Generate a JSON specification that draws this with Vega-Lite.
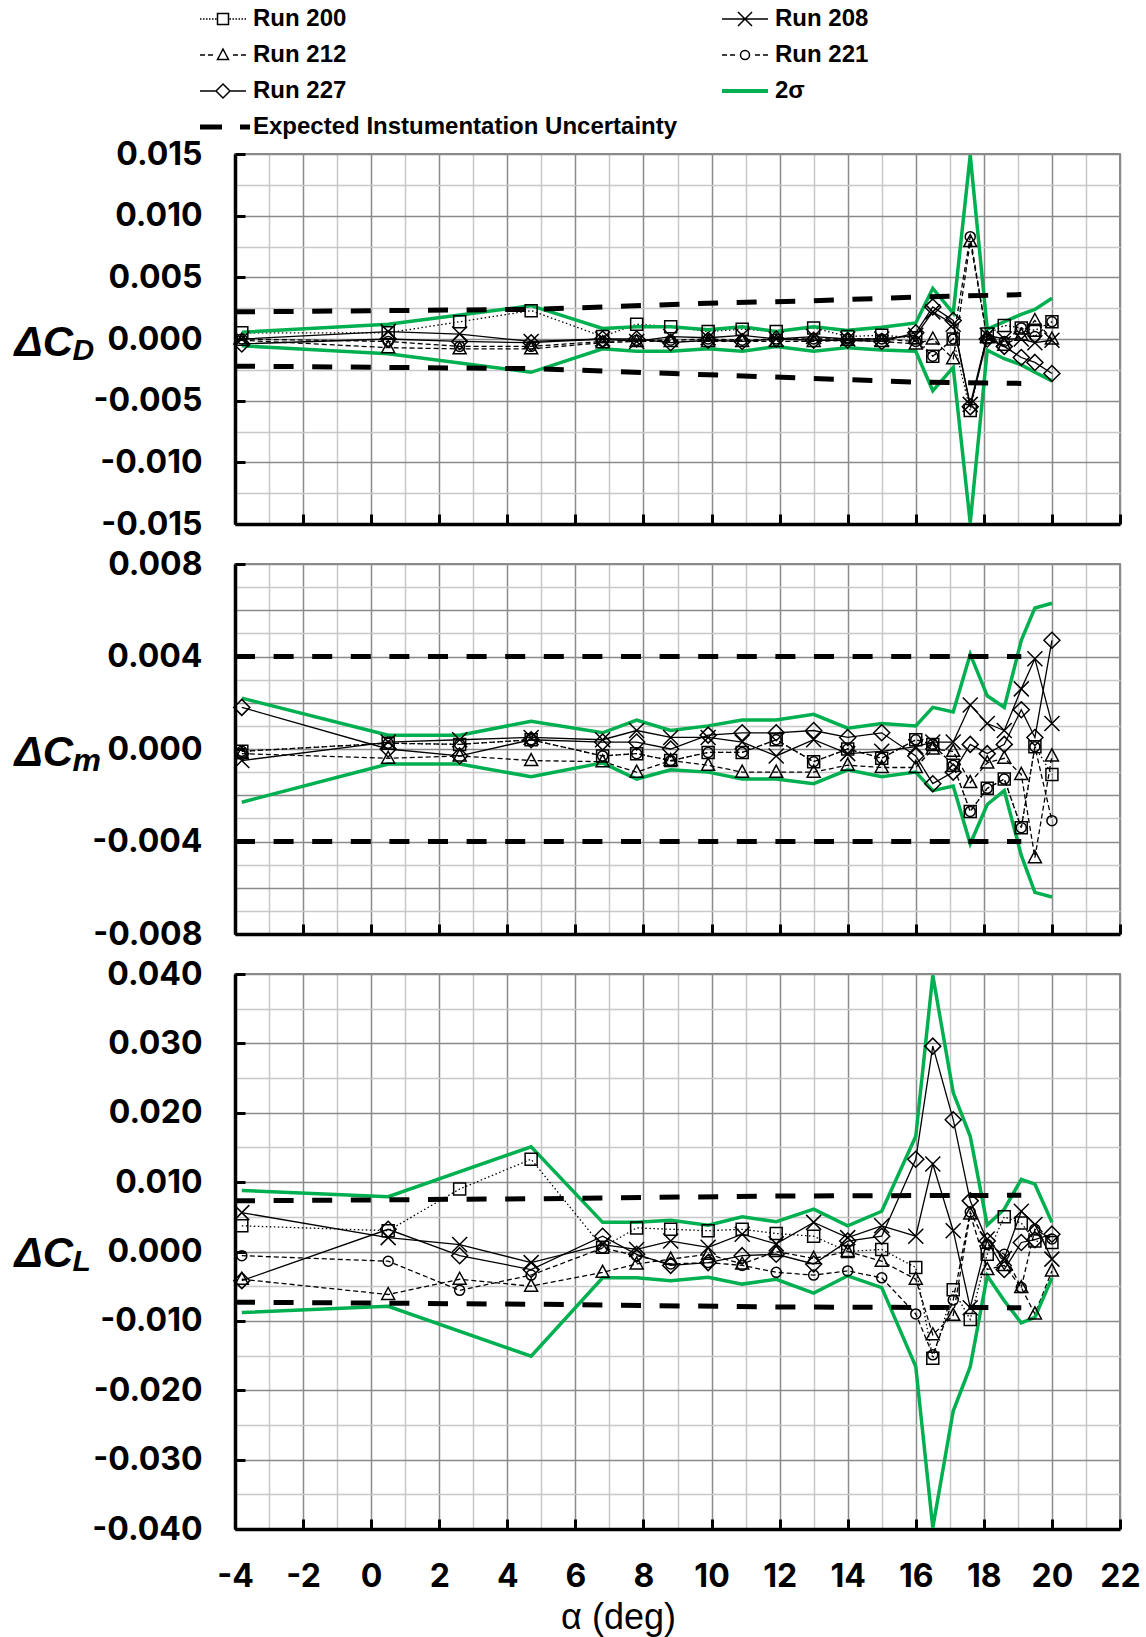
{
  "$schema": "https://vega.github.io/schema/vega-lite/v6.json",
  "background": "white",
  "padding": {"left": 13, "top": 7, "right": 5, "bottom": 4},
  "bounds": "flush",
  "spacing": 40,
  "config": {
    "view": {"stroke": "#8a8a8a", "strokeWidth": 2},
    "font": "Liberation Sans"
  },
  "datasets": {
    "cd": [
      {"series":"Run 200","alpha":-3.8,"value":0.0005},{"series":"Run 200","alpha":0.5,"value":0.0005},{"series":"Run 200","alpha":2.6,"value":0.0014},{"series":"Run 200","alpha":4.7,"value":0.0023},{"series":"Run 200","alpha":6.8,"value":0.0002},{"series":"Run 200","alpha":7.8,"value":0.0012},{"series":"Run 200","alpha":8.8,"value":0.001},{"series":"Run 200","alpha":9.9,"value":0.0006},{"series":"Run 200","alpha":10.9,"value":0.0008},{"series":"Run 200","alpha":11.9,"value":0.0006},{"series":"Run 200","alpha":13.0,"value":0.0009},{"series":"Run 200","alpha":14.0,"value":0.0002},{"series":"Run 200","alpha":15.0,"value":0.0003},{"series":"Run 200","alpha":16.0,"value":0.0001},{"series":"Run 200","alpha":16.5,"value":-0.0014},{"series":"Run 200","alpha":17.1,"value":0.0},{"series":"Run 200","alpha":17.6,"value":-0.0058},{"series":"Run 200","alpha":18.1,"value":0.0004},{"series":"Run 200","alpha":18.6,"value":0.0011},{"series":"Run 200","alpha":19.1,"value":0.0009},{"series":"Run 200","alpha":19.5,"value":0.0007},{"series":"Run 200","alpha":20.0,"value":0.0014},
      {"series":"Run 208","alpha":-3.8,"value":0.0},{"series":"Run 208","alpha":0.5,"value":0.0006},{"series":"Run 208","alpha":2.6,"value":0.0004},{"series":"Run 208","alpha":4.7,"value":-0.0002},{"series":"Run 208","alpha":6.8,"value":0.0},{"series":"Run 208","alpha":7.8,"value":-0.0002},{"series":"Run 208","alpha":8.8,"value":0.0002},{"series":"Run 208","alpha":9.9,"value":0.0001},{"series":"Run 208","alpha":10.9,"value":0.0003},{"series":"Run 208","alpha":11.9,"value":0.0},{"series":"Run 208","alpha":13.0,"value":0.0002},{"series":"Run 208","alpha":14.0,"value":0.0},{"series":"Run 208","alpha":15.0,"value":0.0},{"series":"Run 208","alpha":16.0,"value":0.0003},{"series":"Run 208","alpha":16.5,"value":0.0022},{"series":"Run 208","alpha":17.1,"value":0.0012},{"series":"Run 208","alpha":17.6,"value":-0.0053},{"series":"Run 208","alpha":18.1,"value":0.0003},{"series":"Run 208","alpha":18.6,"value":0.0},{"series":"Run 208","alpha":19.1,"value":0.0},{"series":"Run 208","alpha":19.5,"value":-0.0003},{"series":"Run 208","alpha":20.0,"value":-0.0001},
      {"series":"Run 212","alpha":-3.8,"value":-0.0001},{"series":"Run 212","alpha":0.5,"value":-0.0007},{"series":"Run 212","alpha":2.6,"value":-0.0008},{"series":"Run 212","alpha":4.7,"value":-0.0008},{"series":"Run 212","alpha":6.8,"value":-0.0003},{"series":"Run 212","alpha":7.8,"value":-0.0002},{"series":"Run 212","alpha":8.8,"value":-0.0002},{"series":"Run 212","alpha":9.9,"value":-0.0002},{"series":"Run 212","alpha":10.9,"value":-0.0002},{"series":"Run 212","alpha":11.9,"value":-0.0002},{"series":"Run 212","alpha":13.0,"value":-0.0002},{"series":"Run 212","alpha":14.0,"value":-0.0001},{"series":"Run 212","alpha":15.0,"value":-0.0002},{"series":"Run 212","alpha":16.0,"value":-0.0004},{"series":"Run 212","alpha":16.5,"value":0.0},{"series":"Run 212","alpha":17.1,"value":-0.0016},{"series":"Run 212","alpha":17.6,"value":0.0079},{"series":"Run 212","alpha":18.1,"value":0.0001},{"series":"Run 212","alpha":18.6,"value":-0.0005},{"series":"Run 212","alpha":19.1,"value":0.0003},{"series":"Run 212","alpha":19.5,"value":0.0015},{"series":"Run 212","alpha":20.0,"value":0.0},
      {"series":"Run 221","alpha":-3.8,"value":0.0},{"series":"Run 221","alpha":0.5,"value":-0.0002},{"series":"Run 221","alpha":2.6,"value":-0.0006},{"series":"Run 221","alpha":4.7,"value":-0.0006},{"series":"Run 221","alpha":6.8,"value":-0.0002},{"series":"Run 221","alpha":7.8,"value":-0.0001},{"series":"Run 221","alpha":8.8,"value":-0.0001},{"series":"Run 221","alpha":9.9,"value":0.0},{"series":"Run 221","alpha":10.9,"value":-0.0001},{"series":"Run 221","alpha":11.9,"value":0.0},{"series":"Run 221","alpha":13.0,"value":0.0},{"series":"Run 221","alpha":14.0,"value":0.0},{"series":"Run 221","alpha":15.0,"value":0.0},{"series":"Run 221","alpha":16.0,"value":-0.0002},{"series":"Run 221","alpha":16.5,"value":-0.0014},{"series":"Run 221","alpha":17.1,"value":0.0},{"series":"Run 221","alpha":17.6,"value":0.0083},{"series":"Run 221","alpha":18.1,"value":0.0},{"series":"Run 221","alpha":18.6,"value":-0.0002},{"series":"Run 221","alpha":19.1,"value":0.0009},{"series":"Run 221","alpha":19.5,"value":0.0002},{"series":"Run 221","alpha":20.0,"value":0.0014},
      {"series":"Run 227","alpha":-3.8,"value":-0.0004},{"series":"Run 227","alpha":0.5,"value":0.0},{"series":"Run 227","alpha":2.6,"value":-0.0002},{"series":"Run 227","alpha":4.7,"value":-0.0003},{"series":"Run 227","alpha":6.8,"value":0.0},{"series":"Run 227","alpha":7.8,"value":0.0},{"series":"Run 227","alpha":8.8,"value":-0.0003},{"series":"Run 227","alpha":9.9,"value":-0.0001},{"series":"Run 227","alpha":10.9,"value":-0.0002},{"series":"Run 227","alpha":11.9,"value":0.0},{"series":"Run 227","alpha":13.0,"value":-0.0001},{"series":"Run 227","alpha":14.0,"value":-0.0001},{"series":"Run 227","alpha":15.0,"value":-0.0002},{"series":"Run 227","alpha":16.0,"value":0.0005},{"series":"Run 227","alpha":16.5,"value":0.0026},{"series":"Run 227","alpha":17.1,"value":0.0015},{"series":"Run 227","alpha":17.6,"value":-0.0055},{"series":"Run 227","alpha":18.1,"value":0.0},{"series":"Run 227","alpha":18.6,"value":-0.0006},{"series":"Run 227","alpha":19.1,"value":-0.0015},{"series":"Run 227","alpha":19.5,"value":-0.0019},{"series":"Run 227","alpha":20.0,"value":-0.0028},
      {"series":"2σ","bound":"upper","alpha":-3.8,"value":0.00055},{"series":"2σ","bound":"upper","alpha":0.5,"value":0.0012},{"series":"2σ","bound":"upper","alpha":4.7,"value":0.0027},{"series":"2σ","bound":"upper","alpha":6.8,"value":0.00085},{"series":"2σ","bound":"upper","alpha":7.8,"value":0.001},{"series":"2σ","bound":"upper","alpha":8.8,"value":0.001},{"series":"2σ","bound":"upper","alpha":9.9,"value":0.00075},{"series":"2σ","bound":"upper","alpha":10.9,"value":0.001},{"series":"2σ","bound":"upper","alpha":11.9,"value":0.0006},{"series":"2σ","bound":"upper","alpha":13.0,"value":0.001},{"series":"2σ","bound":"upper","alpha":14.0,"value":0.0007},{"series":"2σ","bound":"upper","alpha":15.0,"value":0.00095},{"series":"2σ","bound":"upper","alpha":16.0,"value":0.0013},{"series":"2σ","bound":"upper","alpha":16.5,"value":0.0041},{"series":"2σ","bound":"upper","alpha":17.1,"value":0.0021},{"series":"2σ","bound":"upper","alpha":17.6,"value":0.0149},{"series":"2σ","bound":"upper","alpha":18.1,"value":0.0008},{"series":"2σ","bound":"upper","alpha":18.6,"value":0.0014},{"series":"2σ","bound":"upper","alpha":19.1,"value":0.002},{"series":"2σ","bound":"upper","alpha":19.5,"value":0.0024},{"series":"2σ","bound":"upper","alpha":20.0,"value":0.0033},
      {"series":"2σ","bound":"lower","alpha":-3.8,"value":-0.00055},{"series":"2σ","bound":"lower","alpha":0.5,"value":-0.0012},{"series":"2σ","bound":"lower","alpha":4.7,"value":-0.0027},{"series":"2σ","bound":"lower","alpha":6.8,"value":-0.0008},{"series":"2σ","bound":"lower","alpha":7.8,"value":-0.001},{"series":"2σ","bound":"lower","alpha":8.8,"value":-0.001},{"series":"2σ","bound":"lower","alpha":9.9,"value":-0.0008},{"series":"2σ","bound":"lower","alpha":10.9,"value":-0.001},{"series":"2σ","bound":"lower","alpha":11.9,"value":-0.0006},{"series":"2σ","bound":"lower","alpha":13.0,"value":-0.001},{"series":"2σ","bound":"lower","alpha":14.0,"value":-0.0007},{"series":"2σ","bound":"lower","alpha":15.0,"value":-0.0009},{"series":"2σ","bound":"lower","alpha":16.0,"value":-0.001},{"series":"2σ","bound":"lower","alpha":16.5,"value":-0.0042},{"series":"2σ","bound":"lower","alpha":17.1,"value":-0.0023},{"series":"2σ","bound":"lower","alpha":17.6,"value":-0.0149},{"series":"2σ","bound":"lower","alpha":18.1,"value":-0.0009},{"series":"2σ","bound":"lower","alpha":18.6,"value":-0.0016},{"series":"2σ","bound":"lower","alpha":19.1,"value":-0.0021},{"series":"2σ","bound":"lower","alpha":19.5,"value":-0.0027},{"series":"2σ","bound":"lower","alpha":20.0,"value":-0.0034},
      {"series":"Expected Instumentation Uncertainty","bound":"upper","alpha":-4,"value":0.0022},{"series":"Expected Instumentation Uncertainty","bound":"upper","alpha":4.7,"value":0.0024},{"series":"Expected Instumentation Uncertainty","bound":"upper","alpha":6.8,"value":0.0026},{"series":"Expected Instumentation Uncertainty","bound":"upper","alpha":9.9,"value":0.0029},{"series":"Expected Instumentation Uncertainty","bound":"upper","alpha":13.0,"value":0.0031},{"series":"Expected Instumentation Uncertainty","bound":"upper","alpha":16.0,"value":0.0034},{"series":"Expected Instumentation Uncertainty","bound":"upper","alpha":19.1,"value":0.0036},
      {"series":"Expected Instumentation Uncertainty","bound":"lower","alpha":-4,"value":-0.0022},{"series":"Expected Instumentation Uncertainty","bound":"lower","alpha":4.7,"value":-0.0024},{"series":"Expected Instumentation Uncertainty","bound":"lower","alpha":6.8,"value":-0.0026},{"series":"Expected Instumentation Uncertainty","bound":"lower","alpha":9.9,"value":-0.0029},{"series":"Expected Instumentation Uncertainty","bound":"lower","alpha":13.0,"value":-0.0032},{"series":"Expected Instumentation Uncertainty","bound":"lower","alpha":16.0,"value":-0.0035},{"series":"Expected Instumentation Uncertainty","bound":"lower","alpha":19.1,"value":-0.0036}
    ],
    "cm": [
      {"series":"Run 200","alpha":-3.8,"value":-0.0001},{"series":"Run 200","alpha":0.5,"value":0.00025},{"series":"Run 200","alpha":2.6,"value":0.0002},{"series":"Run 200","alpha":4.7,"value":0.0004},{"series":"Run 200","alpha":6.8,"value":-0.0003},{"series":"Run 200","alpha":7.8,"value":-0.0002},{"series":"Run 200","alpha":8.8,"value":-0.0005},{"series":"Run 200","alpha":9.9,"value":-0.00015},{"series":"Run 200","alpha":10.9,"value":-0.00015},{"series":"Run 200","alpha":11.9,"value":0.0004},{"series":"Run 200","alpha":13.0,"value":-0.00055},{"series":"Run 200","alpha":14.0,"value":0.0},{"series":"Run 200","alpha":15.0,"value":-0.0004},{"series":"Run 200","alpha":16.0,"value":0.0004},{"series":"Run 200","alpha":16.5,"value":0.0002},{"series":"Run 200","alpha":17.1,"value":-0.0007},{"series":"Run 200","alpha":17.6,"value":-0.0027},{"series":"Run 200","alpha":18.1,"value":-0.0017},{"series":"Run 200","alpha":18.6,"value":-0.0013},{"series":"Run 200","alpha":19.1,"value":-0.0034},{"series":"Run 200","alpha":19.5,"value":0.0001},{"series":"Run 200","alpha":20.0,"value":-0.0011},
      {"series":"Run 208","alpha":-3.8,"value":-0.0005},{"series":"Run 208","alpha":0.5,"value":0.0003},{"series":"Run 208","alpha":2.6,"value":0.0004},{"series":"Run 208","alpha":4.7,"value":0.0005},{"series":"Run 208","alpha":6.8,"value":0.0004},{"series":"Run 208","alpha":7.8,"value":0.0008},{"series":"Run 208","alpha":8.8,"value":0.0005},{"series":"Run 208","alpha":9.9,"value":0.0005},{"series":"Run 208","alpha":10.9,"value":0.0003},{"series":"Run 208","alpha":11.9,"value":-0.0003},{"series":"Run 208","alpha":13.0,"value":0.0004},{"series":"Run 208","alpha":14.0,"value":-0.0002},{"series":"Run 208","alpha":15.0,"value":-0.0001},{"series":"Run 208","alpha":16.0,"value":0.0001},{"series":"Run 208","alpha":16.5,"value":0.0003},{"series":"Run 208","alpha":17.1,"value":0.0003},{"series":"Run 208","alpha":17.6,"value":0.0019},{"series":"Run 208","alpha":18.1,"value":0.0011},{"series":"Run 208","alpha":18.6,"value":0.0008},{"series":"Run 208","alpha":19.1,"value":0.0026},{"series":"Run 208","alpha":19.5,"value":0.0039},{"series":"Run 208","alpha":20.0,"value":0.0011},
      {"series":"Run 212","alpha":-3.8,"value":-0.0002},{"series":"Run 212","alpha":0.5,"value":-0.0004},{"series":"Run 212","alpha":2.6,"value":-0.0003},{"series":"Run 212","alpha":4.7,"value":-0.0005},{"series":"Run 212","alpha":6.8,"value":-0.00055},{"series":"Run 212","alpha":7.8,"value":-0.001},{"series":"Run 212","alpha":8.8,"value":-0.0005},{"series":"Run 212","alpha":9.9,"value":-0.0007},{"series":"Run 212","alpha":10.9,"value":-0.001},{"series":"Run 212","alpha":11.9,"value":-0.001},{"series":"Run 212","alpha":13.0,"value":-0.001},{"series":"Run 212","alpha":14.0,"value":-0.0007},{"series":"Run 212","alpha":15.0,"value":-0.0008},{"series":"Run 212","alpha":16.0,"value":-0.0008},{"series":"Run 212","alpha":16.5,"value":0.0},{"series":"Run 212","alpha":17.1,"value":-0.0001},{"series":"Run 212","alpha":17.6,"value":-0.00145},{"series":"Run 212","alpha":18.1,"value":-0.0006},{"series":"Run 212","alpha":18.6,"value":-0.0004},{"series":"Run 212","alpha":19.1,"value":-0.0011},{"series":"Run 212","alpha":19.5,"value":-0.0047},{"series":"Run 212","alpha":20.0,"value":-0.0003},
      {"series":"Run 221","alpha":-3.8,"value":-0.0001},{"series":"Run 221","alpha":0.5,"value":0.00025},{"series":"Run 221","alpha":2.6,"value":0.0002},{"series":"Run 221","alpha":4.7,"value":0.0004},{"series":"Run 221","alpha":6.8,"value":-0.0003},{"series":"Run 221","alpha":7.8,"value":-0.0002},{"series":"Run 221","alpha":8.8,"value":-0.0005},{"series":"Run 221","alpha":9.9,"value":-0.00015},{"series":"Run 221","alpha":10.9,"value":-0.00015},{"series":"Run 221","alpha":11.9,"value":0.0004},{"series":"Run 221","alpha":13.0,"value":-0.00055},{"series":"Run 221","alpha":14.0,"value":0.0},{"series":"Run 221","alpha":15.0,"value":-0.0004},{"series":"Run 221","alpha":16.0,"value":0.0004},{"series":"Run 221","alpha":16.5,"value":0.0002},{"series":"Run 221","alpha":17.1,"value":-0.0007},{"series":"Run 221","alpha":17.6,"value":-0.0027},{"series":"Run 221","alpha":18.1,"value":-0.0017},{"series":"Run 221","alpha":18.6,"value":-0.0013},{"series":"Run 221","alpha":19.1,"value":-0.0034},{"series":"Run 221","alpha":19.5,"value":0.0001},{"series":"Run 221","alpha":20.0,"value":-0.0031},
      {"series":"Run 227","alpha":-3.8,"value":0.0018},{"series":"Run 227","alpha":0.5,"value":0.0},{"series":"Run 227","alpha":2.6,"value":-0.0003},{"series":"Run 227","alpha":4.7,"value":0.0004},{"series":"Run 227","alpha":6.8,"value":0.0003},{"series":"Run 227","alpha":7.8,"value":0.0003},{"series":"Run 227","alpha":8.8,"value":0.0},{"series":"Run 227","alpha":9.9,"value":0.0006},{"series":"Run 227","alpha":10.9,"value":0.0007},{"series":"Run 227","alpha":11.9,"value":0.0007},{"series":"Run 227","alpha":13.0,"value":0.0008},{"series":"Run 227","alpha":14.0,"value":0.0005},{"series":"Run 227","alpha":15.0,"value":0.0007},{"series":"Run 227","alpha":16.0,"value":-0.0003},{"series":"Run 227","alpha":16.5,"value":-0.0015},{"series":"Run 227","alpha":17.1,"value":-0.001},{"series":"Run 227","alpha":17.6,"value":0.0002},{"series":"Run 227","alpha":18.1,"value":-0.0002},{"series":"Run 227","alpha":18.6,"value":0.0002},{"series":"Run 227","alpha":19.1,"value":0.0017},{"series":"Run 227","alpha":19.5,"value":0.0005},{"series":"Run 227","alpha":20.0,"value":0.0047},
      {"series":"2σ","bound":"upper","alpha":-3.8,"value":0.0022},{"series":"2σ","bound":"upper","alpha":0.5,"value":0.0006},{"series":"2σ","bound":"upper","alpha":2.6,"value":0.0006},{"series":"2σ","bound":"upper","alpha":4.7,"value":0.0012},{"series":"2σ","bound":"upper","alpha":6.8,"value":0.0007},{"series":"2σ","bound":"upper","alpha":7.8,"value":0.00125},{"series":"2σ","bound":"upper","alpha":8.8,"value":0.0008},{"series":"2σ","bound":"upper","alpha":9.9,"value":0.001},{"series":"2σ","bound":"upper","alpha":10.9,"value":0.00125},{"series":"2σ","bound":"upper","alpha":11.9,"value":0.00125},{"series":"2σ","bound":"upper","alpha":13.0,"value":0.0015},{"series":"2σ","bound":"upper","alpha":14.0,"value":0.0009},{"series":"2σ","bound":"upper","alpha":15.0,"value":0.0011},{"series":"2σ","bound":"upper","alpha":16.0,"value":0.001},{"series":"2σ","bound":"upper","alpha":16.5,"value":0.0018},{"series":"2σ","bound":"upper","alpha":17.1,"value":0.0016},{"series":"2σ","bound":"upper","alpha":17.6,"value":0.0041},{"series":"2σ","bound":"upper","alpha":18.1,"value":0.0023},{"series":"2σ","bound":"upper","alpha":18.6,"value":0.0018},{"series":"2σ","bound":"upper","alpha":19.1,"value":0.0047},{"series":"2σ","bound":"upper","alpha":19.5,"value":0.0061},{"series":"2σ","bound":"upper","alpha":20.0,"value":0.0063},
      {"series":"2σ","bound":"lower","alpha":-3.8,"value":-0.0023},{"series":"2σ","bound":"lower","alpha":0.5,"value":-0.00065},{"series":"2σ","bound":"lower","alpha":2.6,"value":-0.00065},{"series":"2σ","bound":"lower","alpha":4.7,"value":-0.0012},{"series":"2σ","bound":"lower","alpha":6.8,"value":-0.0006},{"series":"2σ","bound":"lower","alpha":7.8,"value":-0.0013},{"series":"2σ","bound":"lower","alpha":8.8,"value":-0.0009},{"series":"2σ","bound":"lower","alpha":9.9,"value":-0.001},{"series":"2σ","bound":"lower","alpha":10.9,"value":-0.0013},{"series":"2σ","bound":"lower","alpha":11.9,"value":-0.0013},{"series":"2σ","bound":"lower","alpha":13.0,"value":-0.0015},{"series":"2σ","bound":"lower","alpha":14.0,"value":-0.0009},{"series":"2σ","bound":"lower","alpha":15.0,"value":-0.0012},{"series":"2σ","bound":"lower","alpha":16.0,"value":-0.001},{"series":"2σ","bound":"lower","alpha":16.5,"value":-0.0018},{"series":"2σ","bound":"lower","alpha":17.1,"value":-0.0016},{"series":"2σ","bound":"lower","alpha":17.6,"value":-0.0041},{"series":"2σ","bound":"lower","alpha":18.1,"value":-0.0024},{"series":"2σ","bound":"lower","alpha":18.6,"value":-0.0018},{"series":"2σ","bound":"lower","alpha":19.1,"value":-0.0046},{"series":"2σ","bound":"lower","alpha":19.5,"value":-0.0062},{"series":"2σ","bound":"lower","alpha":20.0,"value":-0.0064},
      {"series":"Expected Instumentation Uncertainty","bound":"upper","alpha":-4,"value":0.004},{"series":"Expected Instumentation Uncertainty","bound":"upper","alpha":19.1,"value":0.004},
      {"series":"Expected Instumentation Uncertainty","bound":"lower","alpha":-4,"value":-0.004},{"series":"Expected Instumentation Uncertainty","bound":"lower","alpha":19.1,"value":-0.004}
    ],
    "cl": [
      {"series":"Run 200","alpha":-3.8,"value":0.0037},{"series":"Run 200","alpha":0.5,"value":0.003},{"series":"Run 200","alpha":2.6,"value":0.009},{"series":"Run 200","alpha":4.7,"value":0.0133},{"series":"Run 200","alpha":6.8,"value":0.0006},{"series":"Run 200","alpha":7.8,"value":0.0034},{"series":"Run 200","alpha":8.8,"value":0.0032},{"series":"Run 200","alpha":9.9,"value":0.003},{"series":"Run 200","alpha":10.9,"value":0.0032},{"series":"Run 200","alpha":11.9,"value":0.0026},{"series":"Run 200","alpha":13.0,"value":0.0022},{"series":"Run 200","alpha":14.0,"value":0.0},{"series":"Run 200","alpha":15.0,"value":0.0003},{"series":"Run 200","alpha":16.0,"value":-0.0023},{"series":"Run 200","alpha":16.5,"value":-0.0154},{"series":"Run 200","alpha":17.1,"value":-0.0055},{"series":"Run 200","alpha":17.6,"value":-0.0098},{"series":"Run 200","alpha":18.1,"value":-0.0004},{"series":"Run 200","alpha":18.6,"value":0.005},{"series":"Run 200","alpha":19.1,"value":0.0041},{"series":"Run 200","alpha":19.5,"value":0.0015},{"series":"Run 200","alpha":20.0,"value":0.0013},
      {"series":"Run 208","alpha":-3.8,"value":0.0056},{"series":"Run 208","alpha":0.5,"value":0.002},{"series":"Run 208","alpha":2.6,"value":0.001},{"series":"Run 208","alpha":4.7,"value":-0.0016},{"series":"Run 208","alpha":6.8,"value":0.001},{"series":"Run 208","alpha":7.8,"value":0.0003},{"series":"Run 208","alpha":8.8,"value":0.0015},{"series":"Run 208","alpha":9.9,"value":0.0006},{"series":"Run 208","alpha":10.9,"value":0.0025},{"series":"Run 208","alpha":11.9,"value":0.0011},{"series":"Run 208","alpha":13.0,"value":0.0042},{"series":"Run 208","alpha":14.0,"value":0.002},{"series":"Run 208","alpha":15.0,"value":0.0037},{"series":"Run 208","alpha":16.0,"value":0.0022},{"series":"Run 208","alpha":16.5,"value":0.0126},{"series":"Run 208","alpha":17.1,"value":0.003},{"series":"Run 208","alpha":17.6,"value":-0.0081},{"series":"Run 208","alpha":18.1,"value":0.0018},{"series":"Run 208","alpha":18.6,"value":-0.001},{"series":"Run 208","alpha":19.1,"value":0.0058},{"series":"Run 208","alpha":19.5,"value":0.0039},{"series":"Run 208","alpha":20.0,"value":-0.0011},
      {"series":"Run 212","alpha":-3.8,"value":-0.004},{"series":"Run 212","alpha":0.5,"value":-0.0062},{"series":"Run 212","alpha":2.6,"value":-0.004},{"series":"Run 212","alpha":4.7,"value":-0.005},{"series":"Run 212","alpha":6.8,"value":-0.003},{"series":"Run 212","alpha":7.8,"value":-0.0018},{"series":"Run 212","alpha":8.8,"value":-0.0011},{"series":"Run 212","alpha":9.9,"value":-0.0004},{"series":"Run 212","alpha":10.9,"value":-0.0018},{"series":"Run 212","alpha":11.9,"value":0.0},{"series":"Run 212","alpha":13.0,"value":-0.001},{"series":"Run 212","alpha":14.0,"value":0.0},{"series":"Run 212","alpha":15.0,"value":-0.0014},{"series":"Run 212","alpha":16.0,"value":-0.004},{"series":"Run 212","alpha":16.5,"value":-0.012},{"series":"Run 212","alpha":17.1,"value":-0.0092},{"series":"Run 212","alpha":17.6,"value":0.0054},{"series":"Run 212","alpha":18.1,"value":-0.0026},{"series":"Run 212","alpha":18.6,"value":-0.002},{"series":"Run 212","alpha":19.1,"value":-0.0052},{"series":"Run 212","alpha":19.5,"value":-0.009},{"series":"Run 212","alpha":20.0,"value":-0.0028},
      {"series":"Run 221","alpha":-3.8,"value":-0.0006},{"series":"Run 221","alpha":0.5,"value":-0.0014},{"series":"Run 221","alpha":2.6,"value":-0.0056},{"series":"Run 221","alpha":4.7,"value":-0.0034},{"series":"Run 221","alpha":6.8,"value":0.0005},{"series":"Run 221","alpha":7.8,"value":-0.0006},{"series":"Run 221","alpha":8.8,"value":-0.0018},{"series":"Run 221","alpha":9.9,"value":-0.0016},{"series":"Run 221","alpha":10.9,"value":-0.002},{"series":"Run 221","alpha":11.9,"value":-0.003},{"series":"Run 221","alpha":13.0,"value":-0.0034},{"series":"Run 221","alpha":14.0,"value":-0.0028},{"series":"Run 221","alpha":15.0,"value":-0.0038},{"series":"Run 221","alpha":16.0,"value":-0.009},{"series":"Run 221","alpha":16.5,"value":-0.0149},{"series":"Run 221","alpha":17.1,"value":-0.007},{"series":"Run 221","alpha":17.6,"value":0.0057},{"series":"Run 221","alpha":18.1,"value":0.001},{"series":"Run 221","alpha":18.6,"value":-0.0004},{"series":"Run 221","alpha":19.1,"value":-0.0052},{"series":"Run 221","alpha":19.5,"value":0.0032},{"series":"Run 221","alpha":20.0,"value":0.0018},
      {"series":"Run 227","alpha":-3.8,"value":-0.0042},{"series":"Run 227","alpha":0.5,"value":0.0032},{"series":"Run 227","alpha":2.6,"value":-0.0006},{"series":"Run 227","alpha":4.7,"value":-0.0026},{"series":"Run 227","alpha":6.8,"value":0.0022},{"series":"Run 227","alpha":7.8,"value":-0.0004},{"series":"Run 227","alpha":8.8,"value":-0.002},{"series":"Run 227","alpha":9.9,"value":-0.0016},{"series":"Run 227","alpha":10.9,"value":-0.0006},{"series":"Run 227","alpha":11.9,"value":-0.0004},{"series":"Run 227","alpha":13.0,"value":-0.0018},{"series":"Run 227","alpha":14.0,"value":0.0015},{"series":"Run 227","alpha":15.0,"value":0.0022},{"series":"Run 227","alpha":16.0,"value":0.0133},{"series":"Run 227","alpha":16.5,"value":0.0296},{"series":"Run 227","alpha":17.1,"value":0.019},{"series":"Run 227","alpha":17.6,"value":0.0073},{"series":"Run 227","alpha":18.1,"value":0.0015},{"series":"Run 227","alpha":18.6,"value":-0.0026},{"series":"Run 227","alpha":19.1,"value":0.0013},{"series":"Run 227","alpha":19.5,"value":0.0017},{"series":"Run 227","alpha":20.0,"value":0.0025},
      {"series":"2σ","bound":"upper","alpha":-3.8,"value":0.0088},{"series":"2σ","bound":"upper","alpha":0.5,"value":0.0079},{"series":"2σ","bound":"upper","alpha":4.7,"value":0.0151},{"series":"2σ","bound":"upper","alpha":6.8,"value":0.0042},{"series":"2σ","bound":"upper","alpha":7.8,"value":0.0042},{"series":"2σ","bound":"upper","alpha":8.8,"value":0.0045},{"series":"2σ","bound":"upper","alpha":9.9,"value":0.0038},{"series":"2σ","bound":"upper","alpha":10.9,"value":0.005},{"series":"2σ","bound":"upper","alpha":11.9,"value":0.0043},{"series":"2σ","bound":"upper","alpha":13.0,"value":0.0061},{"series":"2σ","bound":"upper","alpha":14.0,"value":0.0037},{"series":"2σ","bound":"upper","alpha":15.0,"value":0.0058},{"series":"2σ","bound":"upper","alpha":16.0,"value":0.0166},{"series":"2σ","bound":"upper","alpha":16.5,"value":0.0398},{"series":"2σ","bound":"upper","alpha":17.1,"value":0.0229},{"series":"2σ","bound":"upper","alpha":17.6,"value":0.0166},{"series":"2σ","bound":"upper","alpha":18.1,"value":0.0038},{"series":"2σ","bound":"upper","alpha":18.6,"value":0.0061},{"series":"2σ","bound":"upper","alpha":19.1,"value":0.0104},{"series":"2σ","bound":"upper","alpha":19.5,"value":0.0097},{"series":"2σ","bound":"upper","alpha":20.0,"value":0.0042},
      {"series":"2σ","bound":"lower","alpha":-3.8,"value":-0.0088},{"series":"2σ","bound":"lower","alpha":0.5,"value":-0.0079},{"series":"2σ","bound":"lower","alpha":4.7,"value":-0.0151},{"series":"2σ","bound":"lower","alpha":6.8,"value":-0.0038},{"series":"2σ","bound":"lower","alpha":7.8,"value":-0.0038},{"series":"2σ","bound":"lower","alpha":8.8,"value":-0.0042},{"series":"2σ","bound":"lower","alpha":9.9,"value":-0.0037},{"series":"2σ","bound":"lower","alpha":10.9,"value":-0.0047},{"series":"2σ","bound":"lower","alpha":11.9,"value":-0.004},{"series":"2σ","bound":"lower","alpha":13.0,"value":-0.006},{"series":"2σ","bound":"lower","alpha":14.0,"value":-0.0035},{"series":"2σ","bound":"lower","alpha":15.0,"value":-0.0052},{"series":"2σ","bound":"lower","alpha":16.0,"value":-0.0166},{"series":"2σ","bound":"lower","alpha":16.5,"value":-0.0398},{"series":"2σ","bound":"lower","alpha":17.1,"value":-0.023},{"series":"2σ","bound":"lower","alpha":17.6,"value":-0.0166},{"series":"2σ","bound":"lower","alpha":18.1,"value":-0.0035},{"series":"2σ","bound":"lower","alpha":18.6,"value":-0.0071},{"series":"2σ","bound":"lower","alpha":19.1,"value":-0.0103},{"series":"2σ","bound":"lower","alpha":19.5,"value":-0.0095},{"series":"2σ","bound":"lower","alpha":20.0,"value":-0.0038},
      {"series":"Expected Instumentation Uncertainty","bound":"upper","alpha":-4,"value":0.0073},{"series":"Expected Instumentation Uncertainty","bound":"upper","alpha":4.7,"value":0.0076},{"series":"Expected Instumentation Uncertainty","bound":"upper","alpha":11.9,"value":0.008},{"series":"Expected Instumentation Uncertainty","bound":"upper","alpha":19.1,"value":0.0081},
      {"series":"Expected Instumentation Uncertainty","bound":"lower","alpha":-4,"value":-0.0073},{"series":"Expected Instumentation Uncertainty","bound":"lower","alpha":4.7,"value":-0.0076},{"series":"Expected Instumentation Uncertainty","bound":"lower","alpha":11.9,"value":-0.008},{"series":"Expected Instumentation Uncertainty","bound":"lower","alpha":19.1,"value":-0.0081}
    ]
  },
  "vconcat": [
    {
      "width": 885, "height": 370,
      "data": {"name": "cd"},
      "resolve": {"scale": {"y": "shared"}, "axis": {"y": "independent"}},
      "encoding": {
        "x": {"field": "alpha", "type": "quantitative", "scale": {"domain": [-4, 22], "nice": false, "zero": false},
          "axis": {"values": [-4,-3,-2,-1,0,1,2,3,4,5,6,7,8,9,10,11,12,13,14,15,16,17,18,19,20,21,22], "labels": false, "title": null,
            "grid": true, "gridWidth": 1.5, "gridColor": {"condition": {"test": "datum.value % 2 === 0", "value": "#8a8a8a"}, "value": "#c8c8c8"},
            "domainColor": "black", "domainWidth": 3.5, "tickSize": -10, "tickWidth": 3,
            "tickColor": {"condition": {"test": "datum.value % 2 !== 0", "value": "transparent"}, "value": "black"}}},
        "y": {"field": "value", "type": "quantitative", "scale": {"domain": [-0.015, 0.015], "nice": false, "zero": false}, "axis": null},
        "color": {"field": "series", "type": "nominal",
          "scale": {"domain": ["Run 200","Run 208","Run 212","Run 221","Run 227","2σ","Expected Instumentation Uncertainty"], "range": ["black","black","black","black","black","#00B050","black"]},
          "legend": {"title": null, "orient": "none", "legendX": -24, "legendY": -147, "direction": "horizontal", "columns": 2, "columnPadding": 36, "rowPadding": 12, "padding": 0,
            "labelFont": "Liberation Sans", "labelFontSize": 24, "labelFontWeight": "bold", "labelColor": "black", "labelOffset": 18, "labelLimit": 800,
            "symbolSize": 4, "symbolOffset": 0, "symbolStrokeWidth": 1.5,
            "encode": {"symbols": {"update": {
              "shape": {"signal": "datum.value === 'Run 200' ? 'M-23,0h1.5m1.5,0h1.5m1.5,0h1.5m1.5,0h1.5m1.5,0h1.5m1.5,0h1.5M6.5,0h1.5m1.5,0h1.5m1.5,0h1.5m1.5,0h1.5m1.5,0h1.5m1.5,0h1.5M-5.5,-5.5h11v11h-11z' : datum.value === 'Run 208' ? 'M-23,0H23M-7,-7L7,7M-7,7L7,-7' : datum.value === 'Run 212' ? 'M-23,0h5m3,0h5M10,0h5m3,0h5M0,-6L5.5,4.5H-5.5Z' : datum.value === 'Run 221' ? 'M-23,0h5m3,0h5M10,0h5m3,0h5M4.5,0A4.5,4.5,0,1,1,-4.5,0A4.5,4.5,0,1,1,4.5,0Z' : datum.value === 'Run 227' ? 'M-23,0H-7M7,0H23M0,-7L7,0L0,7L-7,0Z' : datum.value === '2σ' ? 'M-23,0H23' : 'M-23,0H-1M17,0H27'"},
              "stroke": {"signal": "datum.value === '2σ' ? '#00B050' : 'black'"},
              "strokeWidth": {"signal": "datum.value === '2σ' ? 4 : datum.value === 'Expected Instumentation Uncertainty' ? 5 : 1.5"},
              "fill": {"value": "transparent"},
              "strokeDash": {"value": []},
              "size": {"value": 4},
              "opacity": {"value": 1}
            }}}}}
      },
      "layer": [
        {"transform": [{"filter": "datum.series === 'Run 200'"}], "mark": {"type": "line", "strokeWidth": 1.3, "strokeDash": [1.5, 2.5]},
          "encoding": {"y": {"field": "value", "type": "quantitative", "scale": {"domain": [-0.015, 0.015], "nice": false, "zero": false},
          "axis": {"orient": "left", "values": [-0.015,-0.0125,-0.01,-0.0075,-0.005,-0.0025,0,0.0025,0.005,0.0075,0.01,0.0125,0.015],
            "grid": true, "gridWidth": 1.5, "gridColor": {"condition": {"test": "abs(datum.value*200 - round(datum.value*200)) < 1e-6", "value": "#8a8a8a"}, "value": "#c8c8c8"},
            "domainColor": "black", "domainWidth": 3.5, "tickSize": -10, "tickWidth": 3,
            "tickColor": {"condition": {"test": "abs(datum.value*200 - round(datum.value*200)) < 1e-6", "value": "black"}, "value": "transparent"},
            "labelExpr": "abs(datum.value*200 - round(datum.value*200)) < 1e-6 ? replace(format(datum.value, '.3f'), '\u2212', '-') : ''",
            "labelFont": "Inter", "labelFontWeight": "bold", "labelFontSize": 32, "labelColor": "black", "labelPadding": 43, "labelOverlap": false, "labelFlush": false, "labelBound": false,
            "title": "ΔC", "titleAngle": 0, "titleAlign": "left", "titleBaseline": "alphabetic", "titleX": -221, "titleY": 201,
            "titleFont": "Liberation Sans", "titleFontSize": 42, "titleFontWeight": "bold", "titleFontStyle": "italic", "titleColor": "black"}}}},
        {"transform": [{"filter": "datum.series === 'Run 208' || datum.series === 'Run 227'"}], "mark": {"type": "line", "strokeWidth": 1.3}, "encoding": {}},
        {"transform": [{"filter": "datum.series === 'Run 212' || datum.series === 'Run 221'"}], "mark": {"type": "line", "strokeWidth": 1.3, "strokeDash": [5, 3]}, "encoding": {}},
        {"transform": [{"filter": "datum.series === '2σ'"}], "mark": {"type": "line", "strokeWidth": 3.5},
          "encoding": {"detail": {"field": "bound", "type": "nominal"},
            "y": {"field": "value", "type": "quantitative", "scale": {"domain": [-0.015, 0.015], "nice": false, "zero": false},
              "axis": {"orient": "left", "domain": false, "ticks": false, "labels": false, "grid": false,
                "title": "D", "titleAngle": 0, "titleAlign": "left", "titleBaseline": "alphabetic", "titleX": -163, "titleY": 205,
                "titleFont": "Liberation Sans", "titleFontSize": 30, "titleFontWeight": "bold", "titleFontStyle": "italic", "titleColor": "black"}}}},
        {"transform": [{"filter": "datum.series === 'Expected Instumentation Uncertainty'"}], "mark": {"type": "line", "strokeWidth": 5, "strokeDash": [20, 18.6]}, "encoding": {"detail": {"field": "bound", "type": "nominal"}}},
        {"transform": [{"filter": "indexof(['Run 200','Run 208','Run 212','Run 221','Run 227'], datum.series) >= 0"}], "mark": {"type": "point", "filled": false, "size": 4, "strokeWidth": 1.5, "opacity": 1},
          "encoding": {"shape": {"field": "series", "type": "nominal", "legend": null, "scale": {"domain": ["Run 200","Run 208","Run 212","Run 221","Run 227"], "range": ["M-6,-6H6V6H-6Z", "M-7.5,-7.5L7.5,7.5M-7.5,7.5L7.5,-7.5", "M0,-7L6.5,5H-6.5Z", "M5,0A5,5,0,1,1,-5,0A5,5,0,1,1,5,0Z", "M0,-8L8,0L0,8L-8,0Z"]}}}}
      ]
    },
    {
      "width": 885, "height": 370,
      "data": {"name": "cm"},
      "resolve": {"scale": {"y": "shared"}, "axis": {"y": "independent"}},
      "encoding": {
        "x": {"field": "alpha", "type": "quantitative", "scale": {"domain": [-4, 22], "nice": false, "zero": false},
          "axis": {"values": [-4,-3,-2,-1,0,1,2,3,4,5,6,7,8,9,10,11,12,13,14,15,16,17,18,19,20,21,22], "labels": false, "title": null,
            "grid": true, "gridWidth": 1.5, "gridColor": {"condition": {"test": "datum.value % 2 === 0", "value": "#8a8a8a"}, "value": "#c8c8c8"},
            "domainColor": "black", "domainWidth": 3.5, "tickSize": -10, "tickWidth": 3,
            "tickColor": {"condition": {"test": "datum.value % 2 !== 0", "value": "transparent"}, "value": "black"}}},
        "y": {"field": "value", "type": "quantitative", "scale": {"domain": [-0.008, 0.008], "nice": false, "zero": false}, "axis": null},
        "color": {"field": "series", "type": "nominal",
          "scale": {"domain": ["Run 200","Run 208","Run 212","Run 221","Run 227","2σ","Expected Instumentation Uncertainty"], "range": ["black","black","black","black","black","#00B050","black"]},
          "legend": {"title": null, "orient": "none", "legendX": -24, "legendY": -147, "direction": "horizontal", "columns": 2, "columnPadding": 36, "rowPadding": 12, "padding": 0,
            "labelFont": "Liberation Sans", "labelFontSize": 24, "labelFontWeight": "bold", "labelColor": "black", "labelOffset": 18, "labelLimit": 800,
            "symbolSize": 4, "symbolOffset": 0, "symbolStrokeWidth": 1.5,
            "encode": {"symbols": {"update": {
              "shape": {"signal": "datum.value === 'Run 200' ? 'M-23,0h1.5m1.5,0h1.5m1.5,0h1.5m1.5,0h1.5m1.5,0h1.5m1.5,0h1.5M6.5,0h1.5m1.5,0h1.5m1.5,0h1.5m1.5,0h1.5m1.5,0h1.5m1.5,0h1.5M-5.5,-5.5h11v11h-11z' : datum.value === 'Run 208' ? 'M-23,0H23M-7,-7L7,7M-7,7L7,-7' : datum.value === 'Run 212' ? 'M-23,0h5m3,0h5M10,0h5m3,0h5M0,-6L5.5,4.5H-5.5Z' : datum.value === 'Run 221' ? 'M-23,0h5m3,0h5M10,0h5m3,0h5M4.5,0A4.5,4.5,0,1,1,-4.5,0A4.5,4.5,0,1,1,4.5,0Z' : datum.value === 'Run 227' ? 'M-23,0H-7M7,0H23M0,-7L7,0L0,7L-7,0Z' : datum.value === '2σ' ? 'M-23,0H23' : 'M-23,0H-1M17,0H27'"},
              "stroke": {"signal": "datum.value === '2σ' ? '#00B050' : 'black'"},
              "strokeWidth": {"signal": "datum.value === '2σ' ? 4 : datum.value === 'Expected Instumentation Uncertainty' ? 5 : 1.5"},
              "fill": {"value": "transparent"},
              "strokeDash": {"value": []},
              "size": {"value": 4},
              "opacity": {"value": 1}
            }}}}}
      },
      "layer": [
        {"transform": [{"filter": "datum.series === 'Run 200'"}], "mark": {"type": "line", "strokeWidth": 1.3, "strokeDash": [1.5, 2.5]},
          "encoding": {"y": {"field": "value", "type": "quantitative", "scale": {"domain": [-0.008, 0.008], "nice": false, "zero": false},
          "axis": {"orient": "left", "values": [-0.008,-0.007,-0.006,-0.005,-0.004,-0.003,-0.002,-0.001,0,0.001,0.002,0.003,0.004,0.005,0.006,0.007,0.008],
            "grid": true, "gridWidth": 1.5, "gridColor": {"condition": {"test": "abs(datum.value*500 - round(datum.value*500)) < 1e-6", "value": "#8a8a8a"}, "value": "#c8c8c8"},
            "domainColor": "black", "domainWidth": 3.5, "tickSize": -10, "tickWidth": 3,
            "tickColor": {"condition": {"test": "abs(datum.value*250 - round(datum.value*250)) < 1e-6", "value": "black"}, "value": "transparent"},
            "labelExpr": "abs(datum.value*250 - round(datum.value*250)) < 1e-6 ? replace(format(datum.value, '.3f'), '\u2212', '-') : ''",
            "labelFont": "Inter", "labelFontWeight": "bold", "labelFontSize": 32, "labelColor": "black", "labelPadding": 43, "labelOverlap": false, "labelFlush": false, "labelBound": false,
            "title": "ΔC", "titleAngle": 0, "titleAlign": "left", "titleBaseline": "alphabetic", "titleX": -221, "titleY": 201,
            "titleFont": "Liberation Sans", "titleFontSize": 42, "titleFontWeight": "bold", "titleFontStyle": "italic", "titleColor": "black"}}}},
        {"transform": [{"filter": "datum.series === 'Run 208' || datum.series === 'Run 227'"}], "mark": {"type": "line", "strokeWidth": 1.3}, "encoding": {}},
        {"transform": [{"filter": "datum.series === 'Run 212' || datum.series === 'Run 221'"}], "mark": {"type": "line", "strokeWidth": 1.3, "strokeDash": [5, 3]}, "encoding": {}},
        {"transform": [{"filter": "datum.series === '2σ'"}], "mark": {"type": "line", "strokeWidth": 3.5},
          "encoding": {"detail": {"field": "bound", "type": "nominal"},
            "y": {"field": "value", "type": "quantitative", "scale": {"domain": [-0.008, 0.008], "nice": false, "zero": false},
              "axis": {"orient": "left", "domain": false, "ticks": false, "labels": false, "grid": false,
                "title": "m", "titleAngle": 0, "titleAlign": "left", "titleBaseline": "alphabetic", "titleX": -163, "titleY": 206,
                "titleFont": "Liberation Sans", "titleFontSize": 32, "titleFontWeight": "bold", "titleFontStyle": "italic", "titleColor": "black"}}}},
        {"transform": [{"filter": "datum.series === 'Expected Instumentation Uncertainty'"}], "mark": {"type": "line", "strokeWidth": 5, "strokeDash": [20, 18.6]}, "encoding": {"detail": {"field": "bound", "type": "nominal"}}},
        {"transform": [{"filter": "indexof(['Run 200','Run 208','Run 212','Run 221','Run 227'], datum.series) >= 0"}], "mark": {"type": "point", "filled": false, "size": 4, "strokeWidth": 1.5, "opacity": 1},
          "encoding": {"shape": {"field": "series", "type": "nominal", "legend": null, "scale": {"domain": ["Run 200","Run 208","Run 212","Run 221","Run 227"], "range": ["M-6,-6H6V6H-6Z", "M-7.5,-7.5L7.5,7.5M-7.5,7.5L7.5,-7.5", "M0,-7L6.5,5H-6.5Z", "M5,0A5,5,0,1,1,-5,0A5,5,0,1,1,5,0Z", "M0,-8L8,0L0,8L-8,0Z"]}}}}
      ]
    },
    {
      "width": 885, "height": 555,
      "data": {"name": "cl"},
      "resolve": {"scale": {"y": "shared"}, "axis": {"y": "independent"}},
      "encoding": {
        "x": {"field": "alpha", "type": "quantitative", "scale": {"domain": [-4, 22], "nice": false, "zero": false},
          "axis": {"values": [-4,-3,-2,-1,0,1,2,3,4,5,6,7,8,9,10,11,12,13,14,15,16,17,18,19,20,21,22],
            "labelExpr": "datum.value % 2 === 0 ? replace(format(datum.value, 'd'), '\u2212', '-') : ''",
            "labelFont": "Inter", "labelFontWeight": "bold", "labelFontSize": 32, "labelColor": "black", "labelPadding": 42, "labelOverlap": false, "labelFlush": false, "labelBound": false,
            "grid": true, "gridWidth": 1.5, "gridColor": {"condition": {"test": "datum.value % 2 === 0", "value": "#8a8a8a"}, "value": "#c8c8c8"},
            "domainColor": "black", "domainWidth": 3.5, "tickSize": -10, "tickWidth": 3,
            "tickColor": {"condition": {"test": "datum.value % 2 !== 0", "value": "transparent"}, "value": "black"},
            "title": "α (deg)", "titleFont": "Liberation Sans", "titleFontSize": 36, "titleFontWeight": "normal", "titleColor": "black",
            "titleX": 383, "titleY": 99, "titleAlign": "center", "titleBaseline": "alphabetic"}},
        "y": {"field": "value", "type": "quantitative", "scale": {"domain": [-0.04, 0.04], "nice": false, "zero": false}, "axis": null},
        "color": {"field": "series", "type": "nominal",
          "scale": {"domain": ["Run 200","Run 208","Run 212","Run 221","Run 227","2σ","Expected Instumentation Uncertainty"], "range": ["black","black","black","black","black","#00B050","black"]},
          "legend": {"title": null, "orient": "none", "legendX": -24, "legendY": -147, "direction": "horizontal", "columns": 2, "columnPadding": 36, "rowPadding": 12, "padding": 0,
            "labelFont": "Liberation Sans", "labelFontSize": 24, "labelFontWeight": "bold", "labelColor": "black", "labelOffset": 18, "labelLimit": 800,
            "symbolSize": 4, "symbolOffset": 0, "symbolStrokeWidth": 1.5,
            "encode": {"symbols": {"update": {
              "shape": {"signal": "datum.value === 'Run 200' ? 'M-23,0h1.5m1.5,0h1.5m1.5,0h1.5m1.5,0h1.5m1.5,0h1.5m1.5,0h1.5M6.5,0h1.5m1.5,0h1.5m1.5,0h1.5m1.5,0h1.5m1.5,0h1.5m1.5,0h1.5M-5.5,-5.5h11v11h-11z' : datum.value === 'Run 208' ? 'M-23,0H23M-7,-7L7,7M-7,7L7,-7' : datum.value === 'Run 212' ? 'M-23,0h5m3,0h5M10,0h5m3,0h5M0,-6L5.5,4.5H-5.5Z' : datum.value === 'Run 221' ? 'M-23,0h5m3,0h5M10,0h5m3,0h5M4.5,0A4.5,4.5,0,1,1,-4.5,0A4.5,4.5,0,1,1,4.5,0Z' : datum.value === 'Run 227' ? 'M-23,0H-7M7,0H23M0,-7L7,0L0,7L-7,0Z' : datum.value === '2σ' ? 'M-23,0H23' : 'M-23,0H-1M17,0H27'"},
              "stroke": {"signal": "datum.value === '2σ' ? '#00B050' : 'black'"},
              "strokeWidth": {"signal": "datum.value === '2σ' ? 4 : datum.value === 'Expected Instumentation Uncertainty' ? 5 : 1.5"},
              "fill": {"value": "transparent"},
              "strokeDash": {"value": []},
              "size": {"value": 4},
              "opacity": {"value": 1}
            }}}}}
      },
      "layer": [
        {"transform": [{"filter": "datum.series === 'Run 200'"}], "mark": {"type": "line", "strokeWidth": 1.3, "strokeDash": [1.5, 2.5]},
          "encoding": {"y": {"field": "value", "type": "quantitative", "scale": {"domain": [-0.04, 0.04], "nice": false, "zero": false},
          "axis": {"orient": "left", "values": [-0.04,-0.035,-0.03,-0.025,-0.02,-0.015,-0.01,-0.005,0,0.005,0.01,0.015,0.02,0.025,0.03,0.035,0.04],
            "grid": true, "gridWidth": 1.5, "gridColor": {"condition": {"test": "abs(datum.value*100 - round(datum.value*100)) < 1e-6", "value": "#8a8a8a"}, "value": "#c8c8c8"},
            "domainColor": "black", "domainWidth": 3.5, "tickSize": -10, "tickWidth": 3,
            "tickColor": {"condition": {"test": "abs(datum.value*100 - round(datum.value*100)) < 1e-6", "value": "black"}, "value": "transparent"},
            "labelExpr": "abs(datum.value*100 - round(datum.value*100)) < 1e-6 ? replace(format(datum.value, '.3f'), '\u2212', '-') : ''",
            "labelFont": "Inter", "labelFontWeight": "bold", "labelFontSize": 32, "labelColor": "black", "labelPadding": 43, "labelOverlap": false, "labelFlush": false, "labelBound": false,
            "title": "ΔC", "titleAngle": 0, "titleAlign": "left", "titleBaseline": "alphabetic", "titleX": -221, "titleY": 292,
            "titleFont": "Liberation Sans", "titleFontSize": 42, "titleFontWeight": "bold", "titleFontStyle": "italic", "titleColor": "black"}}}},
        {"transform": [{"filter": "datum.series === 'Run 208' || datum.series === 'Run 227'"}], "mark": {"type": "line", "strokeWidth": 1.3}, "encoding": {}},
        {"transform": [{"filter": "datum.series === 'Run 212' || datum.series === 'Run 221'"}], "mark": {"type": "line", "strokeWidth": 1.3, "strokeDash": [5, 3]}, "encoding": {}},
        {"transform": [{"filter": "datum.series === '2σ'"}], "mark": {"type": "line", "strokeWidth": 3.5},
          "encoding": {"detail": {"field": "bound", "type": "nominal"},
            "y": {"field": "value", "type": "quantitative", "scale": {"domain": [-0.04, 0.04], "nice": false, "zero": false},
              "axis": {"orient": "left", "domain": false, "ticks": false, "labels": false, "grid": false,
                "title": "L", "titleAngle": 0, "titleAlign": "left", "titleBaseline": "alphabetic", "titleX": -163, "titleY": 296,
                "titleFont": "Liberation Sans", "titleFontSize": 30, "titleFontWeight": "bold", "titleFontStyle": "italic", "titleColor": "black"}}}},
        {"transform": [{"filter": "datum.series === 'Expected Instumentation Uncertainty'"}], "mark": {"type": "line", "strokeWidth": 5, "strokeDash": [20, 18.6]}, "encoding": {"detail": {"field": "bound", "type": "nominal"}}},
        {"transform": [{"filter": "indexof(['Run 200','Run 208','Run 212','Run 221','Run 227'], datum.series) >= 0"}], "mark": {"type": "point", "filled": false, "size": 4, "strokeWidth": 1.5, "opacity": 1},
          "encoding": {"shape": {"field": "series", "type": "nominal", "legend": null, "scale": {"domain": ["Run 200","Run 208","Run 212","Run 221","Run 227"], "range": ["M-6,-6H6V6H-6Z", "M-7.5,-7.5L7.5,7.5M-7.5,7.5L7.5,-7.5", "M0,-7L6.5,5H-6.5Z", "M5,0A5,5,0,1,1,-5,0A5,5,0,1,1,5,0Z", "M0,-8L8,0L0,8L-8,0Z"]}}}}
      ]
    }
  ]
}
